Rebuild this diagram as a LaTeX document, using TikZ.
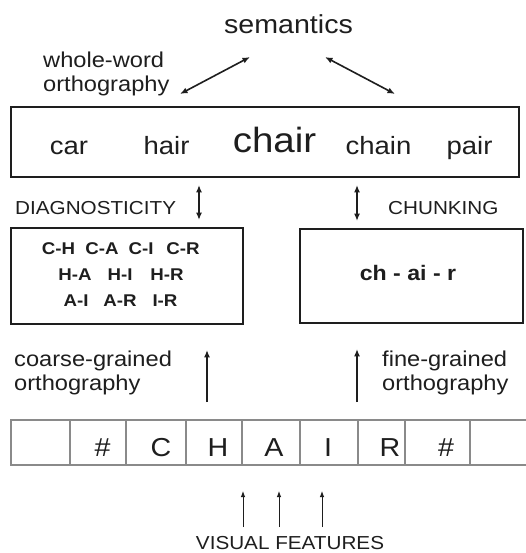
\documentclass[tikz,border=0pt]{standalone}
\usepackage{fontspec}
\setmainfont{Liberation Sans}
\usetikzlibrary{arrows.meta}
% slightly widened lettering
\newcommand\hst[1]{\scalebox{1.1}[1]{#1}}
\definecolor{ink}{HTML}{1E1E1E}
\definecolor{cellline}{HTML}{8A8A8A}
\begin{document}
\begin{tikzpicture}[x=1pt,y=-1pt,
  txt/.style={inner sep=0pt, text=ink},
  big/.style={txt, font=\fontsize{26}{30}\selectfont},
  lbl/.style={txt, font=\fontsize{21.5}{24}\selectfont},
  word/.style={txt, font=\fontsize{25}{30}\selectfont},
  caps/.style={txt, font=\fontsize{18.8}{22}\selectfont},
  pairtxt/.style={txt, font=\bfseries\fontsize{17}{20}\selectfont},
  letter/.style={txt, font=\fontsize{26}{30}\selectfont},
  box/.style={draw=ink, line width=1.9pt, inner sep=0pt},
  link/.style={draw=ink, line width=1.6pt, {Latex[length=7.5pt,width=6pt]}-{Latex[length=7.5pt,width=6pt]}},
  rise/.style={draw=ink, line width=1.8pt, -{Latex[length=7.5pt,width=6pt]}},
  feat/.style={draw=ink, line width=0.9pt, -{Latex[length=6pt,width=4.5pt]}},
  cell/.style={draw=cellline, line width=1.4pt}
]
\useasboundingbox[fill=white] (0,0) rectangle (525,553);

% semantic layer
\node[big, anchor=base] (sem) at (288.5,34) {\hst{semantics}};
\node[lbl, anchor=base west] (whole) at (43,68)
  {\hst{\begin{tabular}[t]{@{}l@{}}whole-word\\orthography\end{tabular}}};

% whole-word lexicon
\node[box, minimum width=508pt, minimum height=70pt] (wordbox) at (265,142) {};
\node[word, anchor=base] (wcar)   at (69,155)    {\hst{car}};
\node[word, anchor=base] (whair)  at (166.5,155) {\hst{hair}};
\node[txt, font=\fontsize{35}{40}\selectfont, anchor=base] (wchair) at (274.5,153) {\hst{chair}};
\node[word, anchor=base] (wchain) at (378.5,155) {\hst{chain}};
\node[word, anchor=base] (wpair)  at (469.5,155) {\hst{pair}};

\coordinate (semL) at (250,57);
\coordinate (semR) at (325,57);
\coordinate (ortL) at (180,94);
\coordinate (ortR) at (395,94);
\draw[link] (semL) -- (ortL);
\draw[link] (semR) -- (ortR);

% intermediate codes
\node[box, minimum width=232pt, minimum height=96pt] (pairbox) at (127,276) {};
\node[box, minimum width=223pt, minimum height=94pt] (chunkbox) at (411.5,276) {};

\node[caps, anchor=base west] (diag)  at (15,214)  {\hst{DIAGNOSTICITY}};
\node[caps, anchor=base west] (chunk) at (388,214) {\hst{CHUNKING}};

\coordinate (dcol) at (199,0);
\coordinate (ccol) at (357,0);
\draw[link, shorten <=7pt, shorten >=7pt] (wordbox.south -| dcol) -- (pairbox.north -| dcol);
\draw[link, shorten <=7pt, shorten >=7pt] (wordbox.south -| ccol) -- (chunkbox.north -| ccol);

\node[pairtxt, anchor=base] (pCH) at (58.5,254) {\hst{C-H}};
\node[pairtxt, anchor=base] (pCA) at (102,254)  {\hst{C-A}};
\node[pairtxt, anchor=base] (pCI) at (141,254)  {\hst{C-I}};
\node[pairtxt, anchor=base] (pCR) at (183,254)  {\hst{C-R}};
\node[pairtxt, anchor=base] (pHA) at (75,280)   {\hst{H-A}};
\node[pairtxt, anchor=base] (pHI) at (120,280)  {\hst{H-I}};
\node[pairtxt, anchor=base] (pHR) at (167,280)  {\hst{H-R}};
\node[pairtxt, anchor=base] (pAI) at (76,306)   {\hst{A-I}};
\node[pairtxt, anchor=base] (pAR) at (120,306)  {\hst{A-R}};
\node[pairtxt, anchor=base] (pIR) at (165,306)  {\hst{I-R}};

\node[txt, font=\bfseries\fontsize{21}{24}\selectfont, anchor=base] (chunks) at (408,280) {\hst{ch - ai - r}};

% orthographic routes
\node[lbl, anchor=base west] (coarse) at (14,366)
  {\hst{\begin{tabular}[t]{@{}l@{}}coarse-grained\\orthography\end{tabular}}};
\node[lbl, anchor=base west] (fine) at (382,366)
  {\hst{\begin{tabular}[t]{@{}l@{}}fine-grained\\orthography\end{tabular}}};

% letter string
\draw[cell] (11,420) rectangle (528,465);
\foreach \x in {70,126,186,242,300,358,405,470}
  \draw[cell] (\x,420) -- (\x,465);
\coordinate (row) at (265,420);

\node[letter, anchor=base] (lhash1) at (102.5,456) {\hst{\#}};
\node[letter, anchor=base] (lC)     at (161,456)   {\hst{C}};
\node[letter, anchor=base] (lH)     at (218,456)   {\hst{H}};
\node[letter, anchor=base] (lA)     at (274,456)   {\hst{A}};
\node[letter, anchor=base] (lI)     at (328,456)   {\hst{I}};
\node[letter, anchor=base] (lR)     at (390,456)   {\hst{R}};
\node[letter, anchor=base] (lhash2) at (446,456)   {\hst{\#}};

\coordinate (ucolL) at (207,0);
\coordinate (ucolR) at (357,0);
\draw[rise, shorten <=18pt, shorten >=25pt] (row -| ucolL) -- (pairbox.south -| ucolL);
\draw[rise, shorten <=18pt, shorten >=25pt] (row -| ucolR) -- (chunkbox.south -| ucolR);

% visual input
\node[caps, anchor=base] (vis) at (290,549) {\hst{VISUAL FEATURES}};
\coordinate (f1) at (243,527);
\coordinate (f2) at (279,527);
\coordinate (f3) at (322,527);
\draw[feat] (f1) -- (243,491);
\draw[feat] (f2) -- (279,491);
\draw[feat] (f3) -- (322,491);
\end{tikzpicture}
\end{document}
